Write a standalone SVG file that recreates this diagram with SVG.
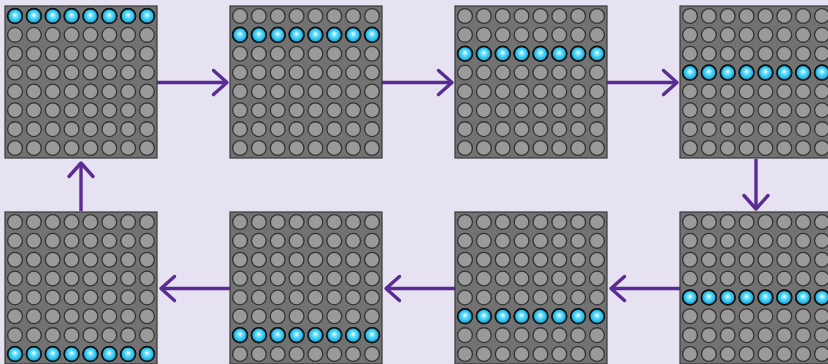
<svg xmlns="http://www.w3.org/2000/svg" xmlns:xlink="http://www.w3.org/1999/xlink" width="828" height="364" viewBox="0 0 828 364">
<style>
.panel{fill:#727272;stroke:#3a3a3a;stroke-width:1.2}
.off{fill:#9a9a9a;stroke:#353535;stroke-width:1.3}
.on{fill:url(#glow);stroke:#111;stroke-width:1.7}
.conn{fill:none;stroke:#5a2c93;stroke-width:3.4;marker-end:url(#chev)}
</style>
<defs>
<radialGradient id="glow" cx="0.5" cy="0.5" r="0.55" fx="0.5" fy="0.42">
<stop offset="0" stop-color="#ffffff"/>
<stop offset="0.3" stop-color="#6fe0fa"/>
<stop offset="0.75" stop-color="#1ab4e6"/>
<stop offset="1" stop-color="#0a88c0"/>
</radialGradient>
<marker id="chev" markerUnits="userSpaceOnUse" viewBox="-17 -15 20 30" markerWidth="20" markerHeight="30" refX="0" refY="0" orient="auto">
<path d="M-13.5,-12 L0,0 L-13.5,12" fill="none" stroke="#5a2c93" stroke-width="3.4" stroke-linecap="round" stroke-linejoin="round"/>
</marker>
<g id="row">
<circle class="off" cx="10" cy="0" r="7.4"/><circle class="off" cx="28.86" cy="0" r="7.4"/><circle class="off" cx="47.71" cy="0" r="7.4"/><circle class="off" cx="66.57" cy="0" r="7.4"/><circle class="off" cx="85.43" cy="0" r="7.4"/><circle class="off" cx="104.29" cy="0" r="7.4"/><circle class="off" cx="123.14" cy="0" r="7.4"/><circle class="off" cx="142" cy="0" r="7.4"/>
</g>
<g id="litrow">
<circle class="on" cx="10" cy="0" r="7.4"/><circle class="on" cx="28.86" cy="0" r="7.4"/><circle class="on" cx="47.71" cy="0" r="7.4"/><circle class="on" cx="66.57" cy="0" r="7.4"/><circle class="on" cx="85.43" cy="0" r="7.4"/><circle class="on" cx="104.29" cy="0" r="7.4"/><circle class="on" cx="123.14" cy="0" r="7.4"/><circle class="on" cx="142" cy="0" r="7.4"/>
</g>
<g id="grid">
<rect class="panel" x="0" y="0" width="152" height="152"/>
<use xlink:href="#row" y="10"/><use xlink:href="#row" y="28.86"/><use xlink:href="#row" y="47.71"/><use xlink:href="#row" y="66.57"/><use xlink:href="#row" y="85.43"/><use xlink:href="#row" y="104.29"/><use xlink:href="#row" y="123.14"/><use xlink:href="#row" y="142"/>
</g>
</defs>
<rect width="828" height="364" fill="#e6e2f1"/>
<g id="connectors">
<line class="conn" x1="157" y1="82.5" x2="227" y2="82.5"/>
<line class="conn" x1="382" y1="82.5" x2="452" y2="82.5"/>
<line class="conn" x1="607" y1="82.5" x2="677" y2="82.5"/>
<line class="conn" x1="756" y1="159" x2="756" y2="209"/>
<line class="conn" x1="680" y1="288.5" x2="611" y2="288.5"/>
<line class="conn" x1="455" y1="288.5" x2="386" y2="288.5"/>
<line class="conn" x1="230" y1="288.5" x2="161" y2="288.5"/>
<line class="conn" x1="81" y1="211" x2="81" y2="163"/>
</g>
<g id="frame1" transform="translate(5,6)"><use xlink:href="#grid"/><use xlink:href="#litrow" y="10"/></g>
<g id="frame2" transform="translate(230,6)"><use xlink:href="#grid"/><use xlink:href="#litrow" y="28.86"/></g>
<g id="frame3" transform="translate(455,6)"><use xlink:href="#grid"/><use xlink:href="#litrow" y="47.71"/></g>
<g id="frame4" transform="translate(680,6)"><use xlink:href="#grid"/><use xlink:href="#litrow" y="66.57"/></g>
<g id="frame5" transform="translate(680,212)"><use xlink:href="#grid"/><use xlink:href="#litrow" y="85.43"/></g>
<g id="frame6" transform="translate(455,212)"><use xlink:href="#grid"/><use xlink:href="#litrow" y="104.29"/></g>
<g id="frame7" transform="translate(230,212)"><use xlink:href="#grid"/><use xlink:href="#litrow" y="123.14"/></g>
<g id="frame8" transform="translate(5,212)"><use xlink:href="#grid"/><use xlink:href="#litrow" y="142"/></g>
</svg>
